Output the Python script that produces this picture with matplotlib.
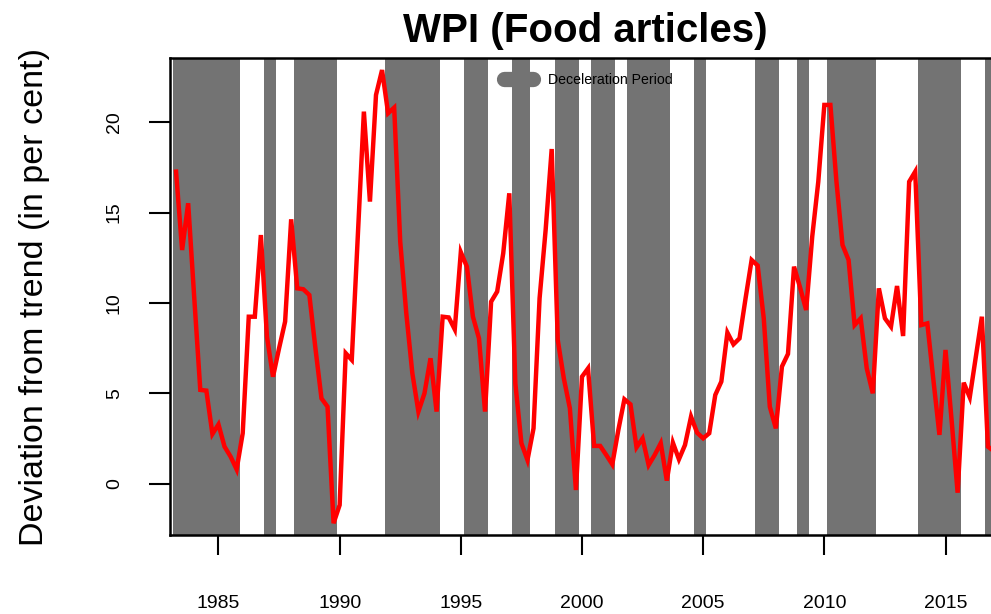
import numpy as np
import matplotlib
matplotlib.use("Agg")
import matplotlib.pyplot as plt
from matplotlib.lines import Line2D

plt.rcParams['font.family'] = ['Liberation Sans', 'DejaVu Sans']

# quarterly series starting 1983 Q2
start_year = 1983.25
deviation = [17.27, 12.93, 15.52, 10.3, 5.19, 5.15, 2.75, 3.28, 2.05, 1.5,
             0.79, 2.79, 9.24, 9.24, 13.76, 8.14, 5.92, 7.49, 8.97, 14.63,
             10.81, 10.76, 10.44, 7.5, 4.72, 4.26, -2.19, -1.18, 7.22, 6.85,
             13.7, 20.59, 15.61, 21.51, 22.89, 20.5, 20.81, 13.39, 9.43, 6.11,
             3.99, 5.0, 6.94, 3.99, 9.24, 9.2, 8.54, 12.81, 12.01, 9.24,
             8.04, 3.99, 10.07, 10.63, 12.75, 16.07, 5.55, 2.24, 1.31, 3.06,
             10.26, 14.04, 18.52, 7.95, 5.83, 4.17, -0.35, 5.92, 6.38, 2.09,
             2.09, 1.59, 1.07, 2.97, 4.67, 4.39, 2.01, 2.51, 1.03, 1.59,
             2.24, 0.17, 2.27, 1.35, 2.14, 3.71, 2.82, 2.51, 2.79, 4.91,
             5.65, 8.36, 7.71, 8.04, 10.26, 12.38, 12.07, 9.15, 4.26, 3.06,
             6.48, 7.18, 12.01, 10.85, 9.61, 13.67, 16.71, 20.96, 20.96, 16.71,
             13.21, 12.38, 8.78, 9.15, 6.38, 5.0, 10.81, 9.15, 8.69, 10.94,
             8.17, 16.71, 17.27, 8.78, 8.87, 5.74, 2.70, 7.40, 3.53, -0.5,
             5.59, 4.78, 7.03, 9.24, 2.05, 1.8]

# deceleration periods (first quarter, last quarter)
decel_start = [1983.25, 1987.0, 1988.25, 1992.0, 1995.25, 1997.25, 1999.0,
               2000.5, 2002.0, 2004.75, 2007.25, 2009.0, 2010.25, 2014.0, 2016.75]
decel_end = [1985.75, 1987.25, 1989.75, 1994.0, 1996.0, 1997.75, 1999.75,
             2001.25, 2003.5, 2005.0, 2008.0, 2009.25, 2012.0, 2015.5, 2017.0]

xticks = [1985, 1990, 1995, 2000, 2005, 2010, 2015]
yticks = [0, 5, 10, 15, 20]

time = start_year + 0.25 * np.arange(len(deviation))
gray = '#737373'

fig = plt.figure(figsize=(9.91, 6.14), dpi=100)
ax = fig.add_axes([170/991, 1-535/614, 1-170/991, (535-58.3)/614])

for s, e in zip(decel_start, decel_end):
    ax.axvspan(s - 0.125, e + 0.125, color=gray, lw=0, zorder=1)

ax.plot(time, deviation, color='#ff0000', lw=3.2, zorder=3, solid_joinstyle='miter')

ax.set_xlim(1983.0, 2016.877)
ax.set_ylim(-2.84, 23.54)
ax.set_xticks(xticks)
ax.set_yticks(yticks)
ax.tick_params(axis='x', length=14.4, width=1.5, pad=28.5, labelsize=14, direction='out')
ax.tick_params(axis='y', length=15, width=1.5, pad=19, labelsize=14, direction='out',
               labelrotation=90)
for lab in ax.get_yticklabels():
    lab.set_va('center')

for side in ['left', 'top', 'bottom']:
    ax.spines[side].set_linewidth(1.8)
    ax.spines[side].set_zorder(5)
ax.spines['right'].set_visible(False)

ax.set_title('WPI (Food articles)', fontsize=29, fontweight='bold', pad=12, x=0.506)
ax.set_ylabel('Deviation from trend (in per cent)', fontsize=24.5, labelpad=40)

handle = Line2D([0], [0], color=gray, lw=11, solid_capstyle='round')
ax.legend([handle], ['Deceleration Period'], loc='upper center',
          bbox_to_anchor=(0.51, 0.995), frameon=False, fontsize=10.2,
          handlelength=2.0, handletextpad=1.1)

fig.savefig('out.png', dpi=100)
